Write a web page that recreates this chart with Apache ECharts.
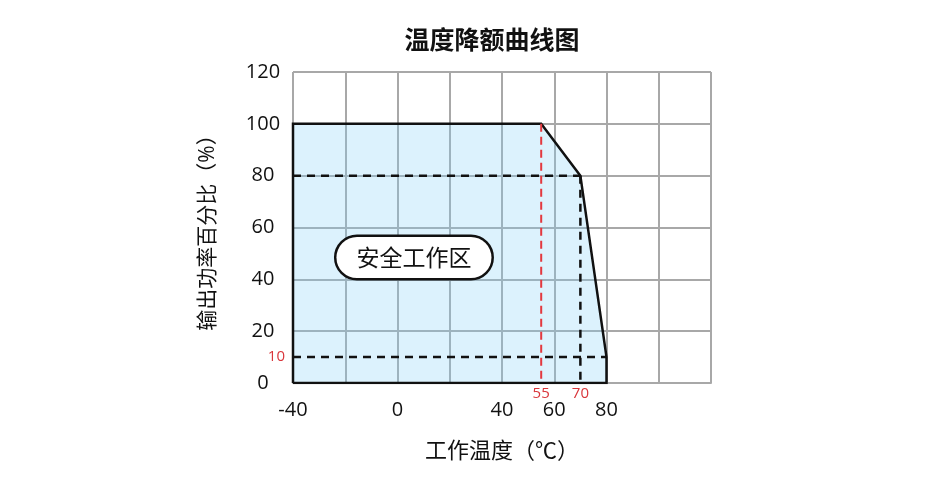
<!DOCTYPE html>
<html><head><meta charset="utf-8">
<script src="https://cdn.jsdelivr.net/npm/echarts@6/dist/echarts.min.js"></script>
<style>html,body{margin:0;padding:0;background:#fff}#c{width:950px;height:480px}</style>
</head><body><div id="c"></div>
<script>
const title = '温度降额曲线图';
const xName = '工作温度（℃）';
const yName = '输出功率百分比（%）';
const xShownTicks = [-40, 0, 40, 60, 80];
const yTicks = [0, 20, 40, 60, 80, 100, 120];
const curveX = [-40, -40, 55, 70, 80, 80, -40];
const curveY = [0, 100, 100, 80, 10, 0, 0];
const dashX80 = [-40, 70];   // horizontal at 80%
const dashV70 = [80, 0];     // vertical at 70°C
const dashX10 = [-40, 80];   // horizontal at 10%
const dashV55 = [100, 0];    // red vertical at 55°C
const redXMarks = [55, 70];
const redYMarks = [10];
const zoneLabel = '安全工作区';
const zonePos = [6.3, 48.4];

const cjk = '"Noto Sans CJK SC", "Noto Sans", sans-serif';
const num = '"Open Sans", "Noto Sans CJK SC", sans-serif';
const chart = echarts.init(document.getElementById('c'), null, {renderer: 'canvas'});
const pts = curveX.map((x, i) => [x, curveY[i]]);
const dashBlack = {color: '#111', width: 2.5, type: [8, 6]};
const hiddenScatter = {type: 'scatter', symbolSize: 0, z: 10, silent: true,
  itemStyle: {opacity: 1}, emphasis: {disabled: true}};
const option = {
  backgroundColor: '#fff',
  animation: false,
  textStyle: {fontFamily: cjk},
  title: {text: title, left: 487, textAlign: 'center', top: 22,
    textStyle: {fontSize: 25, fontWeight: 600, color: '#111', fontFamily: cjk}},
  grid: {left: 293, right: 239, top: 72, bottom: 97},
  xAxis: {
    type: 'value', min: -40, max: 120, interval: 20,
    name: xName, nameLocation: 'middle', nameGap: 58,
    nameTextStyle: {fontSize: 22, color: '#111', fontFamily: num},
    axisLine: {show: true, lineStyle: {color: '#a8a8a8', width: 2}},
    axisTick: {show: false},
    splitLine: {show: true, lineStyle: {color: '#a8a8a8', width: 2}},
    axisLabel: {fontSize: 20, color: '#111', margin: 17, fontFamily: num,
      formatter: v => xShownTicks.indexOf(v) >= 0 ? String(v) : ''}
  },
  yAxis: {
    type: 'value', min: 0, max: 120, interval: 20,
    name: yName, nameLocation: 'middle', nameGap: 74, nameRotate: 90,
    nameTextStyle: {fontSize: 21, color: '#111', fontFamily: num},
    axisLine: {show: true, lineStyle: {color: '#a8a8a8', width: 2}},
    axisTick: {show: false},
    splitLine: {show: true, lineStyle: {color: '#a8a8a8', width: 2}},
    axisLabel: {fontSize: 20, color: '#111', margin: 30, align: 'center', fontFamily: num,
      formatter: v => yTicks.indexOf(v) >= 0 ? String(v) : ''}
  },
  series: [
    {type: 'line', data: pts, symbol: 'none', z: 5,
      lineStyle: {color: '#111', width: 2.5, join: 'miter'},
      areaStyle: {color: 'rgba(130,210,248,0.4)', origin: 'start'}},
    {type: 'line', data: [[dashX80[0], 80], [dashX80[1], 80]], symbol: 'none', z: 6, lineStyle: dashBlack},
    {type: 'line', data: [[70, dashV70[0]], [70, dashV70[1]]], symbol: 'none', z: 6, lineStyle: dashBlack},
    {type: 'line', data: [[dashX10[0], 10], [dashX10[1], 10]], symbol: 'none', z: 6, lineStyle: dashBlack},
    {type: 'line', data: [[55, dashV55[0]], [55, dashV55[1]]], symbol: 'none', z: 6,
      lineStyle: {color: '#e3393f', width: 2, type: [8, 5]}},
    Object.assign({}, hiddenScatter, {
      data: redXMarks.map(v => [v, 0]),
      label: {show: true, position: 'bottom', distance: 3, formatter: p => String(p.value[0]),
        color: '#d9363b', fontSize: 15, fontFamily: num, opacity: 1}}),
    Object.assign({}, hiddenScatter, {
      data: redYMarks.map(v => [-40, v]),
      label: {show: true, position: 'left', distance: 8, formatter: p => String(p.value[1]),
        color: '#d9363b', fontSize: 15, fontFamily: num, opacity: 1}}),
    Object.assign({}, hiddenScatter, {
      data: [zonePos],
      label: {show: true, position: 'inside', formatter: zoneLabel, color: '#111', fontSize: 23,
        fontFamily: cjk, opacity: 1,
        backgroundColor: '#fff', borderColor: '#111', borderWidth: 2.5, borderRadius: 22,
        padding: [9, 20, 9, 20]}})
  ]
};
chart.setOption(option);
</script></body></html>
